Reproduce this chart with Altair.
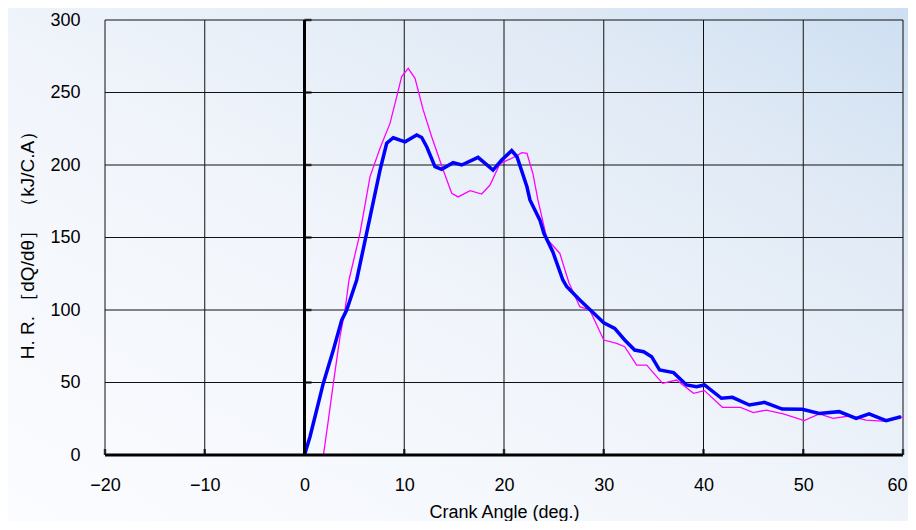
import altair as alt
import pandas as pd

x_ticks = [-20, -10, 0, 10, 20, 30, 40, 50, 60]
y_ticks = [0, 50, 100, 150, 200, 250, 300]

blue_x = [0, 0.55, 1.22, 1.88, 2.89, 3.73, 4.23, 5.23, 6.57, 7.57, 8.24, 8.9,
          10.08, 11.25, 11.75, 12.25, 13.08, 13.75, 14.9, 15.76, 17.4, 18.9,
          19.77, 20.77, 21.3, 22.3, 22.6, 23.6, 24.0, 24.9, 25.9, 26.3, 27.6,
          29.0, 30.0, 31.1, 32.1, 33.1, 34.0, 34.8, 35.6, 37.0, 38.3, 39.3,
          40.1, 41.8, 42.9, 44.6, 46.1, 47.9, 49.9, 51.6, 53.6, 55.3, 56.6,
          58.3, 59.8]
blue_y = [0, 12.6, 31, 49.4, 72.4, 93, 100, 120.7, 164, 196.5, 215, 218.8,
          216, 220.7, 219, 212.6, 198.9, 197, 201.6, 200, 205.3, 196.5,
          203.4, 209.9, 205.7, 185, 175.9, 162, 152.9, 140, 120.7, 116, 106.9,
          97.7, 91.2, 87.3, 79.3, 72.4, 71.2, 67.8, 58.6, 56.8, 48.3, 47.1,
          48.3, 39.1, 39.8, 34.5, 36.3, 31.7, 31.5, 28.7, 29.9, 25.3, 28.3,
          23.7, 26.4]

mag_x = [1.9, 2.39, 2.89, 3.56, 4.06, 4.46, 5.56, 6.57, 7.57, 8.57, 9.24,
         9.74, 10.4, 11.08, 11.9, 12.75, 13.9, 14.76, 15.4, 16.6, 17.76, 18.6,
         19.6, 20.9, 21.8, 22.3, 22.9, 23.4, 24.3, 25.6, 26.5, 27.6, 28.6,
         30.0, 31.3, 32.1, 33.3, 34.3, 35.9, 37.3, 39.0, 40.1, 41.9, 43.7,
         45.0, 46.3, 48.0, 50.1, 51.6, 53.0, 54.6, 56.3, 58.3, 60.0]
mag_y = [0, 24, 49.4, 81.6, 100, 120.7, 152.9, 192, 211.5, 228.7, 247,
         261, 266.7, 259.8, 238, 219.5, 196.5, 180.5, 178, 182.3, 180, 186.2,
         201, 205, 208.5, 208, 194, 175.9, 149, 139, 119, 102.3, 100,
         79.3, 77, 74.7, 62, 62, 49.4, 51.7, 42.5, 44.4, 32.9, 32.9,
         29.2, 31, 28.3, 23.7, 28.3, 25.3, 26.9, 24.1, 23.2, 26.4]

X_TITLE = "Crank Angle (deg.)"
Y_TITLE = "H. R. ［dQ/dθ］ （kJ/C.A）"

FONT = "Liberation Sans"
W, H = 798, 435
PAD_L, PAD_T, PAD_R, PAD_B = 97, 12, 5, 66
xscale = alt.Scale(domain=[-20, 60], nice=False, zero=False)
yscale = alt.Scale(domain=[0, 300], nice=False, zero=False)

blue_df = pd.DataFrame({"angle": blue_x, "hr": blue_y, "i": range(len(blue_x))})
mag_df = pd.DataFrame({"angle": mag_x, "hr": mag_y, "i": range(len(mag_x))})
xt_df = pd.DataFrame({"v": x_ticks})
yt_df = pd.DataFrame({"v": y_ticks})

x_axis = alt.Axis(values=x_ticks, title=X_TITLE, grid=False,
                  domain=False, ticks=False, labelPadding=21, zindex=2,
                  labelFontSize=18, labelFont=FONT, labelColor="black",
                  labelOverlap=False, labelFlush=False,
                  labelOffset={"condition": {"test": f"datum.value == {x_ticks[-1]}",
                                             "value": -6}, "value": 0},
                  titleFont=FONT, titleFontSize=18, titleFontWeight="normal",
                  titleColor="black", titleBaseline="alphabetic", titleY=62)
y_axis = alt.Axis(values=y_ticks, title=Y_TITLE,
                  grid=False, domain=False, ticks=False, labelPadding=25,
                  labelOverlap=False, labelFlush=False, zindex=2,
                  labelFontSize=18, labelFont=FONT, labelColor="black",
                  titleFont=FONT, titleFontSize=19, titleFontWeight="normal",
                  titleColor="black", titleX=-72, titleY=220,
                  titleBaseline="alphabetic")

bg = alt.Chart(pd.DataFrame({"a": [0]})).mark_rect(
    color=alt.LinearGradient(
        gradient="linear", x1=0, y1=1, x2=1, y2=0,
        stops=[alt.GradientStop(offset=0, color="#fbfcff"),
               alt.GradientStop(offset=0.45, color="#f1f5fb"),
               alt.GradientStop(offset=0.8, color="#dfe9f5"),
               alt.GradientStop(offset=1, color="#cddff2")]),
    clip=False,
).encode(x=alt.value(-PAD_L), x2=alt.value(W + PAD_R),
         y=alt.value(-PAD_T), y2=alt.value(H + PAD_B))

vgrid = alt.Chart(xt_df).mark_rule(color="#111111", strokeWidth=1).encode(
    x=alt.X("v:Q", scale=xscale, axis=x_axis))
hgrid = alt.Chart(yt_df).mark_rule(color="#111111", strokeWidth=1).encode(
    y=alt.Y("v:Q", scale=yscale, axis=y_axis))

mag = alt.Chart(mag_df).mark_line(color="#ff00ff", strokeWidth=1.3).encode(
    x=alt.X("angle:Q", scale=xscale),
    y=alt.Y("hr:Q", scale=yscale),
    order="i:Q")
blue = alt.Chart(blue_df).mark_line(color="#0000ff", strokeWidth=3.5).encode(
    x=alt.X("angle:Q", scale=xscale),
    y=alt.Y("hr:Q", scale=yscale),
    order="i:Q")

vzero = alt.Chart(pd.DataFrame({"v": [0]})).mark_rule(color="black", strokeWidth=3).encode(
    x=alt.X("v:Q", scale=xscale))
hzero = alt.Chart(pd.DataFrame({"v": [0]})).mark_rule(color="black", strokeWidth=3).encode(
    y=alt.Y("v:Q", scale=yscale))

ytick = alt.Chart(pd.DataFrame({"v": y_ticks[1:], "z": [0] * (len(y_ticks) - 1)})).mark_tick(
    orient="horizontal", size=7, thickness=2.5, xOffset=3.5, color="black").encode(
    x=alt.X("z:Q", scale=xscale), y=alt.Y("v:Q", scale=yscale))
xtick = alt.Chart(pd.DataFrame({"v": x_ticks, "z": [0] * len(x_ticks)})).mark_tick(
    orient="vertical", size=6, thickness=2.5, yOffset=-3, color="black").encode(
    x=alt.X("v:Q", scale=xscale), y=alt.Y("z:Q", scale=yscale))

chart = alt.layer(bg, vgrid, hgrid, mag, blue, vzero, hzero, ytick, xtick).properties(
    width=W, height=H,
    autosize=alt.AutoSizeParams(type="none"),
    padding={"left": PAD_L, "top": PAD_T, "right": PAD_R, "bottom": PAD_B},
    background="#f3f6fb",
).configure_view(stroke=None)

chart.save("out.html", embed_options={"renderer": "svg", "actions": False})
